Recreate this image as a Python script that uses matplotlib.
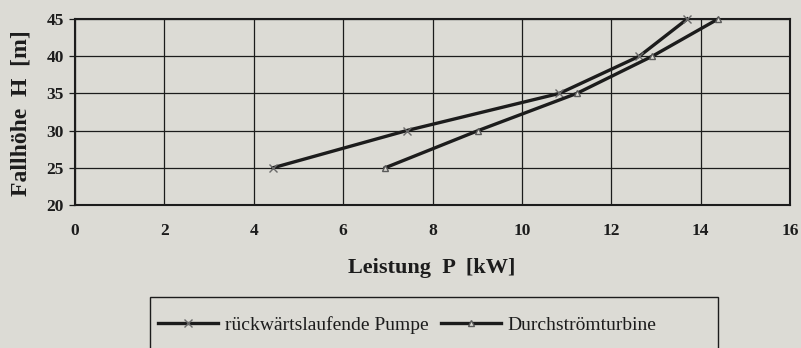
import matplotlib
matplotlib.use("Agg")
import matplotlib.pyplot as plt
from matplotlib.patches import Rectangle

# Leistung P [kW] bei Fallhöhe H [m]
fallhoehe = [25, 30, 35, 40, 45]
pumpe_leistung = [4.43, 7.42, 10.84, 12.63, 13.70]
turbine_leistung = [6.94, 9.02, 11.23, 12.92, 14.39]

x_ticks = [0, 2, 4, 6, 8, 10, 12, 14, 16]
y_ticks = [20, 25, 30, 35, 40, 45]

label_pumpe = "rückwärtslaufende Pumpe"
label_turbine = "Durchströmturbine"

paper = "#dcdbd5"
ink = "#1c1c1c"

plt.rcParams["font.family"] = ["Liberation Serif", "DejaVu Serif"]

fig = plt.figure(figsize=(8.01, 3.48), dpi=100, facecolor=paper)
ax = fig.add_axes([75 / 801, 1 - 205 / 348, (790 - 75) / 801, (205 - 19) / 348])
ax.set_facecolor(paper)

ax.plot(pumpe_leistung, fallhoehe, color=ink, lw=2.4, marker="x", ms=6,
        mew=1.0, mec="#6a6a6a", label=label_pumpe, zorder=3, clip_on=False)
ax.plot(turbine_leistung, fallhoehe, color=ink, lw=2.4, marker="^", ms=5,
        mew=1.0, mec="#5a5a5a", mfc=paper, label=label_turbine, zorder=3, clip_on=False)

ax.set_xlim(0, 16)
ax.set_ylim(20, 45)
ax.set_xticks(x_ticks)
ax.set_yticks(y_ticks)
ax.grid(True, color=ink, lw=0.9)
ax.set_axisbelow(True)
for s in ax.spines.values():
    s.set_color(ink)
    s.set_linewidth(1.5)
ax.tick_params(axis="x", length=0, pad=13)
ax.tick_params(axis="y", length=4, width=0.9, color=ink, pad=4)
for lab in ax.get_xticklabels() + ax.get_yticklabels():
    lab.set_fontweight("bold")
    lab.set_fontsize(12.5)
    lab.set_color(ink)

fig.text(432 / 801, 1 - 268 / 348, "Leistung  P  [kW]", ha="center", va="center",
         fontsize=16, fontweight="bold", color=ink)
fig.text(21 / 801, 1 - 113 / 348, "Fallhöhe  H  [m]", ha="center", va="center",
         rotation=90, fontsize=17, fontweight="bold", color=ink)

# Legendenrahmen (läuft unten über den Bildrand hinaus)
fig.patches.append(Rectangle((150 / 801, -0.1), (718 - 150) / 801, 0.1 + 1 - 297 / 348,
                             transform=fig.transFigure, fill=False, ec=ink, lw=1.0))

h, l = ax.get_legend_handles_labels()
fs = 14
px = fs * 100 / 72
fig.legend(h, l, loc="center left", bbox_to_anchor=(158 / 801, 1 - 325 / 348),
           ncol=2, frameon=False, fontsize=fs, borderpad=0, borderaxespad=0,
           handlelength=60 / px, handletextpad=7 / px, columnspacing=12 / px,
           labelcolor=ink)

fig.savefig("out.png", dpi=100, facecolor=paper)
